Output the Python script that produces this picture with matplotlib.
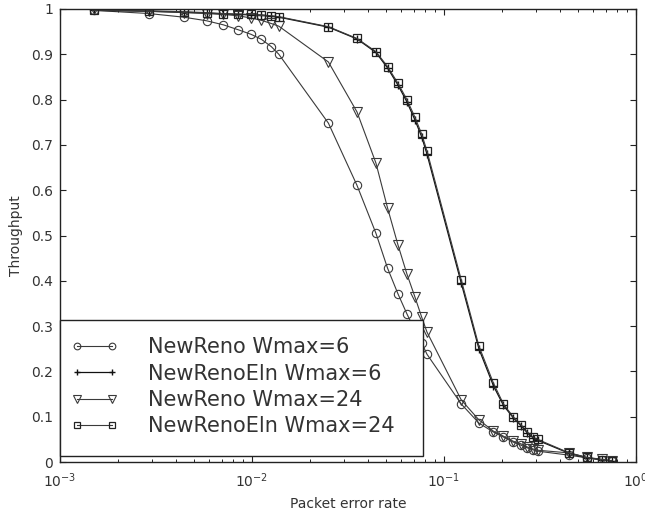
import matplotlib
matplotlib.use("Agg")
import matplotlib.pyplot as plt
from matplotlib.patches import Rectangle
from matplotlib.ticker import LogLocator, FixedLocator, FixedFormatter

plt.rcParams['font.family'] = ['DejaVu Sans']
plt.rcParams['mathtext.fontset'] = 'dejavusans'

per = [0.0015, 0.0029, 0.0044, 0.0058, 0.0071, 0.0085, 0.0099, 0.0112, 0.0126, 0.0138,
       0.025, 0.0352, 0.0442, 0.0508, 0.0576, 0.0641, 0.0706, 0.0765, 0.0815,
       0.123, 0.152, 0.181, 0.204, 0.229, 0.252, 0.272, 0.29, 0.307, 0.45, 0.556, 0.665, 0.75]

newreno_w6 = [0.997, 0.99, 0.982, 0.974, 0.965, 0.954, 0.944, 0.933, 0.917, 0.90,
              0.748, 0.611, 0.505, 0.428, 0.371, 0.327, 0.29, 0.263, 0.238,
              0.128, 0.086, 0.066, 0.055, 0.044, 0.037, 0.031, 0.027, 0.024, 0.015, 0.009, 0.005, 0.002]

neweln_w6 = [0.997, 0.995, 0.993, 0.991, 0.989, 0.988, 0.987, 0.986, 0.984, 0.982,
             0.960, 0.934, 0.904, 0.870, 0.832, 0.795, 0.755, 0.718, 0.680,
             0.395, 0.25, 0.168, 0.125, 0.098, 0.08, 0.064, 0.054, 0.048, 0.019, 0.009, 0.005, 0.002]

newreno_w24 = [0.999, 0.995, 0.992, 0.99, 0.988, 0.985, 0.98, 0.975, 0.968, 0.962,
               0.883, 0.773, 0.66, 0.561, 0.479, 0.415, 0.364, 0.32, 0.287,
               0.137, 0.093, 0.068, 0.057, 0.046, 0.04, 0.033, 0.029, 0.026, 0.02, 0.01, 0.006, 0.003]

neweln_w24 = [0.997, 0.996, 0.994, 0.992, 0.99, 0.989, 0.988, 0.987, 0.985, 0.983,
              0.961, 0.935, 0.906, 0.873, 0.836, 0.8, 0.761, 0.724, 0.687,
              0.402, 0.256, 0.174, 0.128, 0.10, 0.082, 0.066, 0.055, 0.05, 0.02, 0.01, 0.005, 0.002]

labels = ["NewReno Wmax=6", "NewRenoEln Wmax=6", "NewReno Wmax=24", "NewRenoEln Wmax=24"]
yticks = [0, 0.1, 0.2, 0.3, 0.4, 0.5, 0.6, 0.7, 0.8, 0.9, 1]
ytick_labels = ["0", "0.1", "0.2", "0.3", "0.4", "0.5", "0.6", "0.7", "0.8", "0.9", "1"]

fig = plt.figure(figsize=(6.45, 5.16), dpi=100)
ax = fig.add_axes([60/645, 54/516, 576/645, 453/516])

grey = '#3a3a3a'
ax.plot(per, newreno_w6, color=grey, lw=0.8, marker='o', ms=6, mfc='none', mec=grey, mew=0.8, label=labels[0])
ax.plot(per, neweln_w6, color='#111111', lw=0.9, marker='+', ms=6, mec='#111111', mew=1.0, label=labels[1])
ax.plot(per, newreno_w24, color=grey, lw=0.8, marker='v', ms=6.5, mfc='none', mec=grey, mew=0.8, label=labels[2])
ax.plot(per, neweln_w24, color=grey, lw=0.8, marker='s', ms=6, mfc='none', mec='#222222', mew=0.9, label=labels[3])

ax.set_xscale('log')
ax.set_xlim(1e-3, 1)
ax.set_ylim(0, 1)
ax.yaxis.set_major_locator(FixedLocator(yticks))
ax.yaxis.set_major_formatter(FixedFormatter(ytick_labels))
ax.xaxis.set_major_locator(LogLocator(base=10, numticks=10))
ax.xaxis.set_minor_locator(LogLocator(base=10, subs=range(2, 10), numticks=10))

ax.tick_params(which='both', direction='in', top=True, right=True, colors='#222222',
               labelcolor='#333333', labelsize=10)
ax.tick_params(axis='x', which='major', pad=7)
ax.tick_params(axis='y', which='major', pad=5)
ax.tick_params(which='major', length=4, width=0.8)
ax.tick_params(which='minor', length=2.5, width=0.7)
for s in ax.spines.values():
    s.set_linewidth(1.0)
    s.set_color('#222222')

ax.set_xlabel("Packet error rate", fontsize=10, color='#333333', labelpad=5)
ax.set_ylabel("Throughput", fontsize=10, color='#333333', labelpad=6)

# legend frame (drawn separately to match the reference box)
frame = Rectangle((0.0, 0.013), 0.63, 0.30, transform=ax.transAxes, facecolor='white',
                  edgecolor='#222222', linewidth=1.0, zorder=5, clip_on=False)
ax.add_patch(frame)
leg = ax.legend(loc='center left', bbox_to_anchor=(0.0, 0.166),
                fontsize=15, numpoints=2, handlelength=2.3, handletextpad=1.4,
                labelspacing=0.31, borderpad=0.5, borderaxespad=0.0,
                frameon=False, markerscale=0.8)
leg.set_zorder(6)
for t in leg.get_texts():
    t.set_color('#333333')

fig.savefig("out.png", dpi=100)
